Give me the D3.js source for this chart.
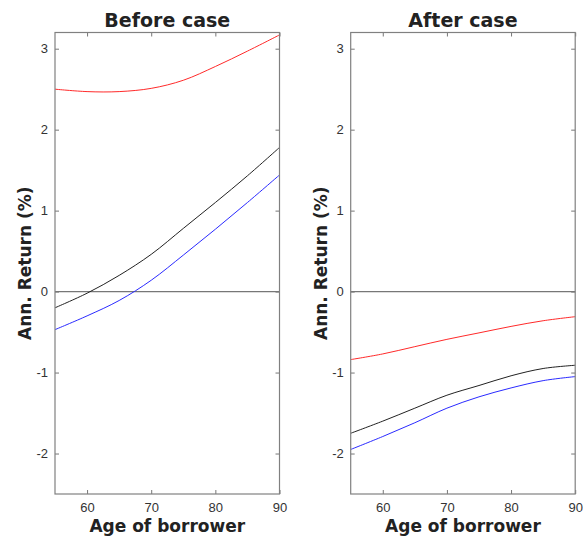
<!DOCTYPE html>
<html>
<head>
<meta charset="utf-8">
<script src="https://cdn.jsdelivr.net/npm/d3@7"></script>
<style>
  body { margin: 0; background: #fff; }
  .tick text { font-family: "Liberation Sans", Arial, sans-serif; font-size: 13px; fill: #333; }
  .lbl { font-family: "DejaVu Sans", sans-serif; font-weight: bold; fill: #222; }
</style>
</head>
<body>
<div id="chart"></div>
<script>
// values
const ages = [55, 60, 65, 70, 75, 80, 85, 90];

const beforeRed   = [2.50, 2.47, 2.47, 2.51, 2.61, 2.78, 2.97, 3.17];
const beforeBlack = [-0.20, -0.02, 0.20, 0.46, 0.78, 1.10, 1.43, 1.78];
const beforeBlue  = [-0.47, -0.30, -0.11, 0.14, 0.45, 0.77, 1.10, 1.44];

const afterRed   = [-0.84, -0.77, -0.68, -0.59, -0.51, -0.43, -0.36, -0.31];
const afterBlack = [-1.75, -1.60, -1.44, -1.28, -1.16, -1.04, -0.95, -0.91];
const afterBlue  = [-1.95, -1.79, -1.62, -1.44, -1.30, -1.19, -1.10, -1.05];

const xTicks = [60, 70, 80, 90];
const yTicks = [-2, -1, 0, 1, 2, 3];

const panels = [
	{ title: "Before case", left: 55, series: [[beforeRed, "#ff2a2a"], [beforeBlack, "#222"], [beforeBlue, "#2a2aff"]] },
	{ title: "After case", left: 350.7, series: [[afterRed, "#ff2a2a"], [afterBlack, "#222"], [afterBlue, "#2a2aff"]] }
];

const width = 583, height = 540;
const plotW = 224.5, plotTop = 32.5, plotBottom = 494;

const svg = d3.select("#chart").append("svg")
	.attr("width", width)
	.attr("height", height);

const y = d3.scaleLinear().domain([-2.5, 3.2]).range([plotBottom, plotTop]);

panels.forEach(p => {
	const x = d3.scaleLinear().domain([55, 90]).range([p.left, p.left + plotW]);
	const g = svg.append("g");

	// zero line
	g.append("line")
		.attr("x1", x(55)).attr("x2", x(90))
		.attr("y1", y(0)).attr("y2", y(0))
		.style("stroke", "#777")
		.style("stroke-width", 1.2);

	const line = d3.line()
		.x((d, i) => x(ages[i]))
		.y(d => y(d))
		.curve(d3.curveCatmullRom);

	p.series.forEach(([vals, col]) => {
		g.append("path")
			.datum(vals)
			.attr("d", line)
			.style("fill", "none")
			.style("stroke", col)
			.style("stroke-width", 1);
	});

	// axes, ticks pointing inward
	const ax = (sel, axis) => {
		sel.call(axis);
		sel.select(".domain").remove();
		sel.selectAll(".tick line").style("stroke", "#777");
	};
	const fmt = d => String(d);
	ax(g.append("g").attr("transform", `translate(0,${plotBottom})`),
		d3.axisBottom(x).tickValues(xTicks).tickFormat(fmt).tickSizeInner(-4).tickSizeOuter(0).tickPadding(9));
	ax(g.append("g").attr("transform", `translate(0,${plotTop})`),
		d3.axisTop(x).tickValues(xTicks).tickSizeInner(-4).tickSizeOuter(0).tickFormat(""));
	ax(g.append("g").attr("transform", `translate(${x(55)},0)`),
		d3.axisLeft(y).tickValues(yTicks).tickFormat(fmt).tickSizeInner(-4).tickSizeOuter(0).tickPadding(7));
	ax(g.append("g").attr("transform", `translate(${x(90)},0)`),
		d3.axisRight(y).tickValues(yTicks).tickSizeInner(-4).tickSizeOuter(0).tickFormat(""));

	g.append("rect")
		.attr("x", x(55)).attr("y", plotTop)
		.attr("width", plotW).attr("height", plotBottom - plotTop)
		.style("fill", "none")
		.style("stroke", "#808080")
		.style("stroke-width", 1.2);

	const cx = p.left + plotW / 2;
	g.append("text").classed("lbl", true)
		.attr("x", cx).attr("y", 26.5)
		.attr("text-anchor", "middle")
		.style("font-size", "19px")
		.text(p.title);

	g.append("text").classed("lbl", true)
		.attr("x", cx).attr("y", 532)
		.attr("text-anchor", "middle")
		.style("font-size", "17px")
		.text("Age of borrower");

	g.append("text").classed("lbl", true)
		.attr("transform", `translate(${p.left - 24},${(plotTop + plotBottom) / 2}) rotate(-90)`)
		.attr("text-anchor", "middle")
		.style("font-size", "17px")
		.text("Ann. Return (%)");
});
</script>
</body>
</html>
